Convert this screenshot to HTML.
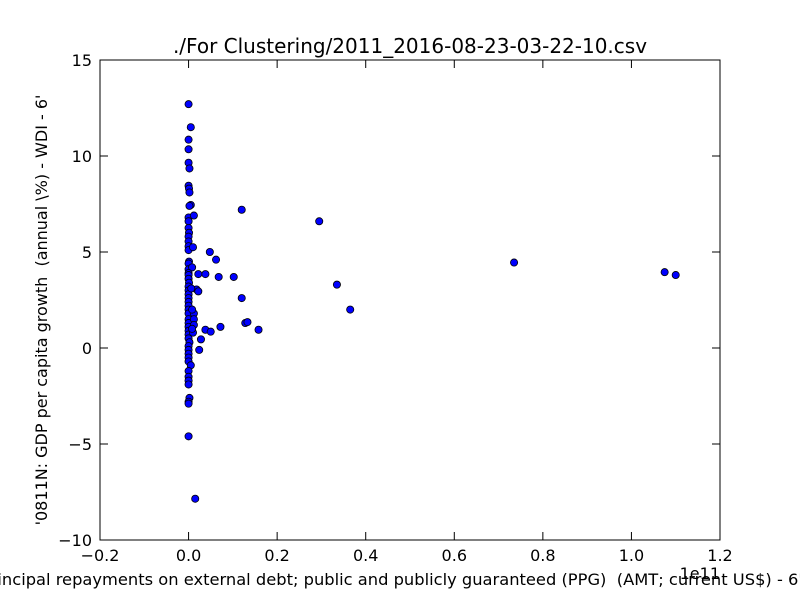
<!DOCTYPE html>
<html><head><meta charset="utf-8"><style>
body{margin:0;background:#fff;}
svg{display:block;font-family:"DejaVu Sans","Liberation Sans",sans-serif;}
</style></head><body>
<svg id="chart" width="800" height="600" viewBox="0 0 800 600">
<rect x="0" y="0" width="800" height="600" fill="#fff"/>
<text x="410" y="53" font-size="20" text-anchor="middle">./For Clustering/2011_2016-08-23-03-22-10.csv</text>
<g id="ticks"></g>
<g id="points"></g>
<rect x="100" y="60" width="620" height="480" fill="none" stroke="#000" stroke-width="1"/>
<text x="392" y="585" font-size="16.3" text-anchor="middle">Principal repayments on external debt; public and publicly guaranteed (PPG)&#160; (AMT; current US$) - 6'</text>
<text x="720" y="579" font-size="16" text-anchor="end">1e11</text>
<text transform="translate(47,310) rotate(-90)" font-size="16" text-anchor="middle">'0811N: GDP per capita growth&#160; (annual \%) - WDI - 6'</text>
</svg>
<script>
const xTicks=[-0.2,0,0.2,0.4,0.6,0.8,1.0,1.2];
const xTickLabels=["\u22120.2","0.0","0.2","0.4","0.6","0.8","1.0","1.2"];
const yTicks=[-10,-5,0,5,10,15];
const yTickLabels=["\u221210","\u22125","0","5","10","15"];
const xValues=[0,0.005,0,0,0,0.002,0,0.001,0.002,0.005,0.002,0,0.012,0,0,0.001,0,0,0,0,0.01,0.001,0,0,0.008,0,0,0,0.001,0,0,0,0,0,0,0,0,0,0,0,0,0,0,0.002,0,0,0,0,0,0.005,0,0,0,0,0.002,0,0,0,0.015,
0.12,0.295,0.048,0.062,0.022,0.038,0.068,0.102,0.018,0.022,0.12,0.128,0.133,0.158,0.072,0.038,0.05,0.028,0.024,0.335,0.365,0.735,1.075,1.1,0.012,0.012,0.012,0.01,0.008,0.008,0.006];
const yValues=[12.7,11.5,10.85,10.35,9.65,9.35,8.45,8.3,8.1,7.45,7.4,6.8,6.9,6.6,6.25,6.0,5.8,5.55,5.3,5.1,5.25,4.5,4.4,4.1,4.2,3.9,3.8,3.6,3.4,3.2,3.0,2.8,2.6,2.4,2.2,2.0,1.8,1.5,1.3,1.1,0.9,0.7,0.5,0.3,0.1,-0.1,-0.3,-0.5,-0.7,-0.9,-1.2,-1.5,-1.7,-1.9,-2.6,-2.8,-2.9,-4.6,-7.85,
7.2,6.6,5.0,4.6,3.85,3.85,3.7,3.7,3.05,2.95,2.6,1.3,1.35,0.95,1.1,0.95,0.85,0.45,-0.1,3.3,2.0,4.45,3.95,3.8,1.8,1.5,1.2,0.8,2.0,1.0,3.1];
const L=100,R=720,T=60,B=540;
function xs(v){return L+(v-(-0.2))/(1.4)*(R-L);}
function ys(v){return B-(v-(-10))/25*(B-T);}
const NS="http://www.w3.org/2000/svg";
const tg=document.getElementById('ticks');
function mk(tag,attrs,parent){const e=document.createElementNS(NS,tag);for(const k in attrs)e.setAttribute(k,attrs[k]);parent.appendChild(e);return e;}
xTicks.forEach((t,i)=>{
  const x=xs(t);
  const a=mk('line',{x1:x,x2:x,y1:B,y2:B-8,stroke:'#000'},tg);
  
  
  const b=mk('line',{x1:x,x2:x,y1:T,y2:T+8,stroke:'#000'},tg);
  
  
  const tx=mk('text',{x:x,y:B+21,'font-size':16,'text-anchor':'middle'},tg);
  tx.textContent=xTickLabels[i];
  
  
});
yTicks.forEach((t,i)=>{
  const y=ys(t);
  const a=mk('line',{x1:L,x2:L+8,y1:y,y2:y,stroke:'#000'},tg);
  
  
  const b=mk('line',{x1:R,x2:R-8,y1:y,y2:y,stroke:'#000'},tg);
  
  
  const tx=mk('text',{x:L-8,y:y+6,'font-size':16,'text-anchor':'end'},tg);
  tx.textContent=yTickLabels[i];
  
  
});
const pg=document.getElementById('points');
xValues.forEach((xv,i)=>{
  const c=mk('circle',{cx:xs(xv),cy:ys(yValues[i]),r:3.6,fill:'#0000ff',stroke:'#000','stroke-width':0.8},pg);
  
  
});
</script>
</body></html>
